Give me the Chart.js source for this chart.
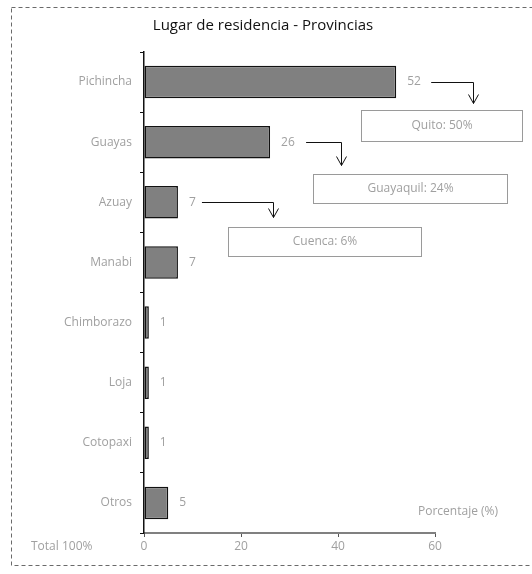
<!DOCTYPE html>
<html lang="es">
<head>
    <meta charset="UTF-8">
    <title>Lugar de residencia - Provincias</title>
    <script src="https://cdn.jsdelivr.net/npm/chart.js"></script>
    <style>
        html, body { margin: 0; padding: 0; background: #fff; }
        #chart { display: block; }
    </style>
</head>
<body>
    <canvas id="chart" width="532" height="574"></canvas>
    <script>
        // Datos
        const provincias = ['Pichincha', 'Guayas', 'Azuay', 'Manabi', 'Chimborazo', 'Loja', 'Cotopaxi', 'Otros'];
        const porcentajes = [52, 26, 7, 7, 1, 1, 1, 5];
        const xTicks = [0, 20, 40, 60];
        const ciudades = ['Pichincha', 'Guayas', 'Azuay'];
        const ciudadTextos = ['Quito: 50%', 'Guayaquil: 24%', 'Cuenca: 6%'];

        const titulo = 'Lugar de residencia - Provincias';
        const ejeTitulo = 'Porcentaje (%)';
        const totalTexto = 'Total 100%';

        const FONT = '"Open Sans", "DejaVu Sans", sans-serif';
        const GRAY = '#a0a0a0';

        // layout of the callouts (px offsets from the bar end / bar centre)
        const calloutLayout = [
            { start: 35, corner: 77, drop: 21, boxL: -35, boxR: 126, boxT: 27, boxB: 58 },
            { start: 36, corner: 71, drop: 23, boxL: 43, boxR: 237, boxT: 31, boxB: 60 },
            { start: 24, corner: 95, drop: 15, boxL: 50, boxR: 243, boxT: 24, boxB: 53 }
        ];

        const extras = {
            id: 'extras',
            beforeDraw(chart) {
                const ctx = chart.ctx;
                ctx.save();
                ctx.fillStyle = '#fff';
                ctx.fillRect(0, 0, chart.width, chart.height);
                // dashed frame
                ctx.strokeStyle = '#6a6a6a';
                ctx.lineWidth = 1;
                ctx.setLineDash([4, 3]);
                ctx.strokeRect(11.5, 7.5, 540, 558);
                ctx.restore();
            },
            afterDatasetsDraw(chart) {
                const ctx = chart.ctx;
                const x = chart.scales.x;
                const y = chart.scales.y;
                ctx.save();

                // title
                ctx.fillStyle = '#111';
                ctx.font = '15px ' + FONT;
                ctx.textAlign = 'center';
                ctx.textBaseline = 'middle';
                ctx.fillText(titulo, 263, 26);

                // value labels
                ctx.fillStyle = GRAY;
                ctx.font = '12px ' + FONT;
                ctx.textAlign = 'left';
                porcentajes.forEach((v, i) => {
                    ctx.fillText(String(v), x.getPixelForValue(v) + 11, y.getPixelForValue(i));
                });

                // axis title and total
                ctx.fillText(ejeTitulo, 418, 512);
                ctx.fillText(totalTexto, 31, 547);

                // callouts
                ciudades.forEach((cat, k) => {
                    const i = provincias.indexOf(cat);
                    const L = calloutLayout[k];
                    const bx = x.getPixelForValue(porcentajes[i]);
                    const by = Math.round(y.getPixelForValue(i)) + 0.5;
                    const x0 = bx + L.start, xc = Math.round(bx + L.corner) + 0.5, y1 = by + L.drop;
                    ctx.strokeStyle = '#111';
                    ctx.lineWidth = 1;
                    ctx.beginPath();
                    ctx.moveTo(x0, by);
                    ctx.lineTo(xc, by);
                    ctx.lineTo(xc, y1);
                    ctx.moveTo(xc - 5, y1 - 9);
                    ctx.lineTo(xc, y1);
                    ctx.lineTo(xc + 5, y1 - 9);
                    ctx.stroke();

                    const l = Math.round(bx + L.boxL) + 0.5, r = Math.round(bx + L.boxR) + 0.5;
                    const t = Math.round(by + L.boxT) + 0.5, b = Math.round(by + L.boxB) + 0.5;
                    ctx.strokeStyle = '#9a9a9a';
                    ctx.strokeRect(l, t, r - l, b - t);
                    ctx.fillStyle = GRAY;
                    ctx.textAlign = 'center';
                    ctx.fillText(ciudadTextos[k], (l + r) / 2, (t + b) / 2);
                });
                ctx.restore();
            }
        };

        new Chart(document.getElementById('chart'), {
            type: 'bar',
            data: {
                labels: provincias,
                datasets: [{
                    data: porcentajes,
                    backgroundColor: '#808080',
                    borderColor: '#111',
                    borderWidth: 1.5,
                    borderSkipped: false,
                    categoryPercentage: 0.54,
                    barPercentage: 1
                }]
            },
            options: {
                indexAxis: 'y',
                responsive: false,
                animation: false,
                layout: { padding: { top: 52, right: 97, bottom: 0, left: 0 } },
                plugins: {
                    legend: { display: false },
                    tooltip: { enabled: false },
                    title: { display: false }
                },
                scales: {
                    x: {
                        min: 0,
                        max: 60,
                        afterBuildTicks(scale) {
                            scale.ticks = xTicks.map(v => ({ value: v }));
                        },
                        afterFit(scale) { scale.height = 41; },
                        grid: { drawOnChartArea: false, drawTicks: true, tickLength: 4, color: '#555' },
                        border: { color: '#808080', width: 2 },
                        ticks: { color: GRAY, font: { family: FONT, size: 12 }, padding: 2 }
                    },
                    y: {
                        afterFit(scale) { scale.width = 144; },
                        grid: { offset: true, drawOnChartArea: false, drawTicks: true, tickLength: 4, color: '#111' },
                        border: { color: '#111', width: 1.5 },
                        ticks: { color: GRAY, font: { family: FONT, size: 12 }, padding: 8 }
                    }
                }
            },
            plugins: [extras]
        });
    </script>
</body>
</html>
